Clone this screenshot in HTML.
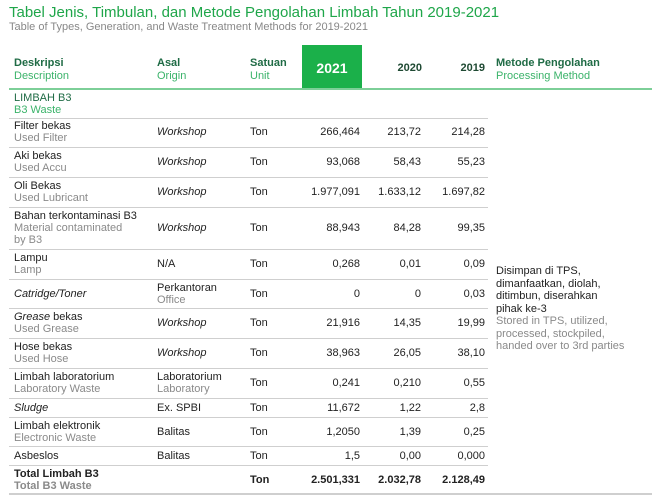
<!DOCTYPE html>
<html><head><meta charset="utf-8">
<style>
body{margin:0;background:#fff;font-family:"Liberation Sans",sans-serif;}
#page{position:relative;width:661px;height:499px;overflow:hidden;}
.abs{position:absolute;}
.t{color:#222;font-size:11px;line-height:12px;}
.g{color:#8a8a8a;font-size:11px;line-height:12px;}
.row{position:absolute;left:9px;width:479px;border-bottom:1.5px solid #cfcfcf;}
.cell{position:absolute;top:0;bottom:0;display:flex;flex-direction:column;justify-content:center;}
.num{text-align:right;align-items:flex-end;}
i{font-style:italic;}
</style></head><body>
<div id="page">
<div class="abs" style="left:9px;top:4px;font-size:15px;color:#1fa64a;">Tabel Jenis, Timbulan, dan Metode Pengolahan Limbah Tahun 2019-2021</div>
<div class="abs" style="left:9px;top:21px;font-size:11px;color:#888;">Table of Types, Generation, and Waste Treatment Methods for 2019-2021</div>

<div class="abs" style="left:302px;top:45px;width:60px;height:43px;background:#1bb04a;"></div>
<div class="abs" style="left:14px;top:57px;font-size:11px;line-height:13px;"><b style="color:#1f6b45">Deskripsi</b><br><span style="color:#3bb36a">Description</span></div>
<div class="abs" style="left:157px;top:57px;font-size:11px;line-height:13px;"><b style="color:#1f6b45">Asal</b><br><span style="color:#3bb36a">Origin</span></div>
<div class="abs" style="left:250px;top:57px;font-size:11px;line-height:13px;"><b style="color:#1f6b45">Satuan</b><br><span style="color:#3bb36a">Unit</span></div>
<div class="abs" style="left:302px;top:60px;width:60px;text-align:center;font-size:14px;font-weight:bold;color:#fff;">2021</div>
<div class="abs" style="left:370px;top:62px;width:52px;text-align:right;font-size:11px;font-weight:bold;color:#1f4a33;">2020</div>
<div class="abs" style="left:433px;top:62px;width:52px;text-align:right;font-size:11px;font-weight:bold;color:#1f4a33;">2019</div>
<div class="abs" style="left:496px;top:57px;font-size:11px;line-height:13px;"><b style="color:#1f6b45">Metode Pengolahan</b><br><span style="color:#3bb36a">Processing Method</span></div>
<div class="abs" style="left:9px;top:88px;width:643px;height:2px;background:#7dcf98;"></div>

<div class="row" style="top:90px;height:28px;"><div class="cell" style="left:5px;font-size:11px;line-height:12px;"><span style="color:#1f6b45">LIMBAH B3</span><span style="color:#3bb36a">B3 Waste</span></div></div>

<div id="rows"></div>

<div class="abs" style="left:496px;top:265px;width:160px;font-size:11px;line-height:12.5px;"><span style="color:#222">Disimpan di TPS,<br>dimanfaatkan, diolah,<br>ditimbun, diserahkan<br>pihak ke-3</span><br><span style="color:#8a8a8a">Stored in TPS, utilized,<br>processed, stockpiled,<br>handed over to 3rd parties</span></div>

<div class="abs" style="left:9px;top:493px;width:643px;height:2px;background:#cfcfcf;"></div>
</div>
<script>
const descId=["Filter bekas","Aki bekas","Oli Bekas","Bahan terkontaminasi B3","Lampu","<i>Catridge/Toner</i>","<i>Grease</i> bekas","Hose bekas","Limbah laboratorium","<i>Sludge</i>","Limbah elektronik","Asbeslos"];
const descEn=["Used Filter","Used Accu","Used Lubricant","Material contaminated<br>by B3","Lamp","","Used Grease","Used Hose","Laboratory Waste","","Electronic Waste",""];
const originId=["<i>Workshop</i>","<i>Workshop</i>","<i>Workshop</i>","<i>Workshop</i>","N/A","Perkantoran","<i>Workshop</i>","<i>Workshop</i>","Laboratorium","Ex. SPBI","Balitas","Balitas"];
const originEn=["","","","","","Office","","","Laboratory","","",""];
const v2021=["266,464","93,068","1.977,091","88,943","0,268","0","21,916","38,963","0,241","11,672","1,2050","1,5"];
const v2020=["213,72","58,43","1.633,12","84,28","0,01","0","14,35","26,05","0,210","1,22","1,39","0,00"];
const v2019=["214,28","55,23","1.697,82","99,35","0,09","0,03","19,99","38,10","0,55","2,8","0,25","0,000"];
const heights=[30,30,30,42,30,29,30,30,30,19,29,19];
const wrap=document.getElementById('rows');
let y=118;
function cell(html,left,width,cls){return `<div class="cell ${cls||''}" style="left:${left}px;width:${width}px">${html}</div>`;}
for(let i=0;i<descId.length;i++){
  const r=document.createElement('div');
  r.className='row';
  
  
  r.style.top=y+'px';r.style.height=(heights[i]-1.5)+'px';
  let d=`<span class="t">${descId[i]}</span>`+(descEn[i]?`<span class="g">${descEn[i]}</span>`:'');
  let o=`<span class="t">${originId[i]}</span>`+(originEn[i]?`<span class="g">${originEn[i]}</span>`:'');
  r.innerHTML=cell(d,5,140)+cell(o,148,90)+cell('<span class="t">Ton</span>',241,40)
   +cell(`<span class="t">${v2021[i]}</span>`,290,61,'num')+cell(`<span class="t">${v2020[i]}</span>`,360,52,'num')+cell(`<span class="t">${v2019[i]}</span>`,424,52,'num');
  wrap.appendChild(r);
  y+=heights[i];
}
const t=document.createElement('div');
t.className='row';


t.style.top=y+'px';t.style.height=(493-y)+'px';t.style.borderBottom='none';
t.innerHTML=cell('<b class="t">Total Limbah B3</b><b class="g">Total B3 Waste</b>',5,140)+cell('<b class="t">Ton</b>',241,40)
 +cell('<b class="t">2.501,331</b>',280,71,'num')+cell('<b class="t">2.032,78</b>',350,62,'num')+cell('<b class="t">2.128,49</b>',414,62,'num');
wrap.appendChild(t);
</script>
</body></html>
